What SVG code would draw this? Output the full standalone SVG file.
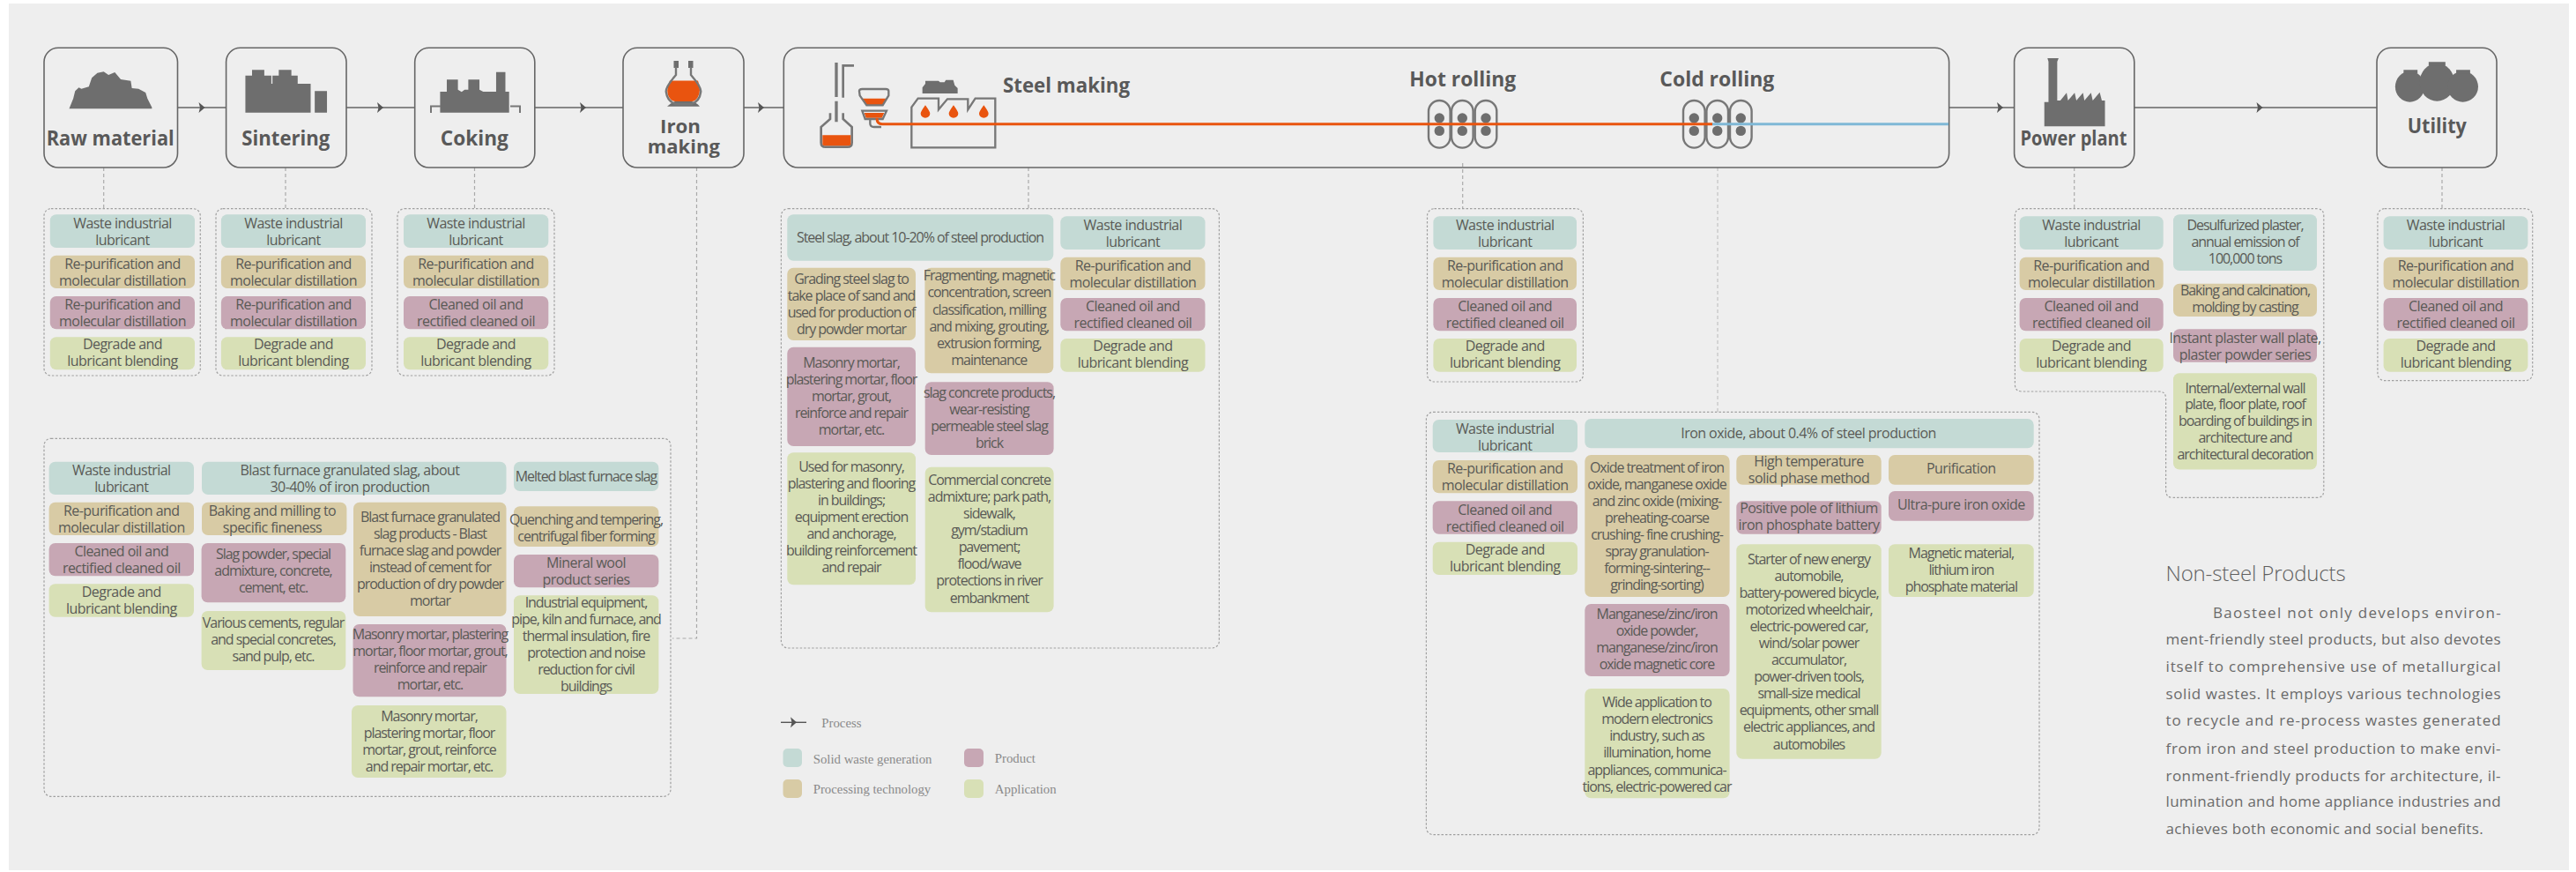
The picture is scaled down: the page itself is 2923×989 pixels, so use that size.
<svg xmlns="http://www.w3.org/2000/svg" width="2923" height="989" viewBox="0 0 2923 989">
<style>
.teal{fill:#c4dad5}.tan{fill:#d8cba5}.mau{fill:#c7a7b4}.grn{fill:#d8e0b6}
.t{font-family:"Open Sans","Liberation Sans",sans-serif;font-size:16px;letter-spacing:-.55px;fill:#5a5a56;text-anchor:middle}
#st1 .t,#st2 .t,#st3 .t,#st4 .t,#st5 .t,#st6 .t,#st7 .t,#i6 .t,#i8 .t,#i9 .t,#i10 .t,#i11 .t,#i12 .t,#i13 .t,#i15 .t,#o6 .t,#o7 .t,#o8 .t,#o11 .t,#o14 .t,#p5 .t,#p6 .t,#p8 .t{letter-spacing:-1.05px}
.h{font-family:"Open Sans","Liberation Sans",sans-serif;font-size:23px;font-weight:700;fill:#595959;text-anchor:middle}
.lg{font-family:"Liberation Serif",serif;font-size:14.8px;fill:#8a8a8a}
.p{font-family:"Open Sans","Liberation Sans",sans-serif;font-size:17px;fill:#6a6a6a}
.box{fill:none;stroke:#666;stroke-width:1.6}
.cont{fill:none;stroke:#a0a0a0;stroke-width:1.2;stroke-dasharray:2.5 2}
.dash{fill:none;stroke:#aaa;stroke-width:1.2;stroke-dasharray:4 3}
.flow{fill:none;stroke:#666;stroke-width:1.6}
.ic{fill:#6e6e6e}
.ol{fill:none;stroke:#777;stroke-width:2.4}
.or{fill:#e9540f}
</style>
<defs>
<path id="ah" d="M0,-6 L7,0 L0,6 L1.5,0 Z" fill="#555"/>
<g id="roll"><rect x="0" y="0" width="24.6" height="53.6" rx="12.3" class="ol"/><circle cx="12.3" cy="20" r="5.7" class="ic"/><circle cx="12.3" cy="34.4" r="5.7" class="ic"/></g>
</defs>
<rect width="2923" height="989" fill="#fff"/>
<rect x="10" y="4" width="2905" height="983" fill="#eee"/>

<g id="connectors">
<path class="flow" d="M201.500,122H256.600M393,122H470.700M606.800,122H707M844,122H889.300M2211.600,122H2285.600M2421.800,122H2697"/>
<use href="#ah" x="225.500" y="122"/><use href="#ah" x="428" y="122"/><use href="#ah" x="658" y="122"/><use href="#ah" x="860" y="122"/><use href="#ah" x="2266" y="122"/><use href="#ah" x="2560.500" y="122"/>
<path class="dash" d="M117.700,190V236M324,190V236M538.500,190V236M790.500,190V724H763M1167,190V236M1659.700,185V236M2353.700,190V236M2771,190V236"/>
<path class="dash" style="stroke:#c4c4c4" d="M1949,190V467"/>
</g>

<g id="node-raw"><rect class="box" x="50" y="54.300" width="151.500" height="135.700" rx="16"/>
<path class="ic" transform="translate(20,40) scale(.4209,.3333)" d="M139,250L150,215L155,190L165,178L172,182L192,175L200,145L215,128L232,124L245,135L262,126L278,150L305,155L308,180L326,182L345,195L350,215L362,245V250Z"/>
<text class="h" x="125.200" y="165" textLength="145" lengthAdjust="spacingAndGlyphs">Raw material</text></g>
<g id="node-sinter"><rect class="box" x="256.600" y="54.300" width="136.400" height="135.700" rx="16"/>
<path class="ic" transform="translate(20,40) scale(.4209,.3333)" d="M614,263V137H632V118H665V137H684V165H687V137H704V118H738V137H755V165H790V263ZM801,190H834V263H801Z"/>
<text class="h" x="324.300" y="165" textLength="100" lengthAdjust="spacingAndGlyphs">Sintering</text></g>
<g id="node-coke"><rect class="box" x="470.700" y="54.300" width="136.100" height="135.700" rx="16"/>
<path class="ic" transform="translate(20,40) scale(.4209,.3333)" d="M1139,263V192H1157V151H1187V185L1197,193L1205,185H1215V151H1245V185L1255,192H1290V125H1315V192H1325V263Z"/>
<path d="M489,128V120.500H500M590,128V120.500H579" fill="none" stroke="#777" stroke-width="2"/>
<text class="h" x="538.300" y="165" textLength="77" lengthAdjust="spacingAndGlyphs">Coking</text></g>
<g id="node-iron"><rect class="box" x="707" y="54.300" width="137" height="135.700" rx="16"/>
<path class="ic" d="M764.500,69H770V77H764.500ZM781,69H786.500V77H781ZM757,120.700Q762,116 766,115H785Q790,116 794,120.700Z"/>
<path class="or" d="M760,91.500H792Q796,103 792,110Q789,115 785,115H766Q762,115 759,110Q755,103 760,91.500Z"/>
<path d="M767,76V85Q754,100 756,105Q757,114 766,118H785Q794,114 795,105Q797,100 784,85V76" fill="none" stroke="#777" stroke-width="2.400"/>
<text class="h" style="font-size:21.500px" x="772" y="150.500" textLength="46" lengthAdjust="spacingAndGlyphs">Iron</text><text class="h" style="font-size:21.500px" x="775.800" y="173.500" textLength="82" lengthAdjust="spacingAndGlyphs">making</text></g>
<g id="node-steel"><rect class="box" x="889.300" y="54.300" width="1322.300" height="135.700" rx="16"/>
<g transform="translate(880,40) scale(.3333)">
<path fill="#777" d="M202,93H212V210H202ZM202,224H212V295H202Z"/>
<path d="M267,103H230V212M186,265V285L155,312V365Q155,380 170,380H245Q260,380 260,365V312L230,285V265" fill="none" stroke="#777" stroke-width="8"/>
<path class="or" d="M160,340H256V370Q256,376 245,376H170Q160,376 160,370Z"/>
<path class="or" d="M291,215H380L364,238H310ZM302,264H370L362,281H308Z"/>
<path d="M285,190Q285,183 295,183H375Q385,183 385,190V205L365,238H310L287,205ZM295,257H378L365,285H305ZM322,285V300Q322,312 335,312H360" fill="none" stroke="#777" stroke-width="7"/>
<path class="ic" d="M500,198V178L510,165V155H555L560,160H575L580,152H605L610,170L620,180V198Z"/>
<path d="M463,382V245L485,215H555V253L585,217H655V253L680,215H748V382Z" fill="none" stroke="#777" stroke-width="7"/>
<path id="drops" class="or" d="M510,238Q526,260 526,266A16,15 0 1 1 494,266Q494,260 510,238ZM606,238Q622,260 622,266A16,15 0 1 1 590,266Q590,260 606,238ZM709,238Q725,260 725,266A16,15 0 1 1 693,266Q693,260 709,238Z"/>
</g>
<text class="h" x="1210" y="105" textLength="144" lengthAdjust="spacingAndGlyphs">Steel making</text>
<text class="h" x="1659.700" y="98.300" textLength="120.700" lengthAdjust="spacingAndGlyphs">Hot rolling</text>
<text class="h" x="1948.300" y="98.300" textLength="130" lengthAdjust="spacingAndGlyphs">Cold rolling</text>
<use href="#roll" x="1621" y="114"/><use href="#roll" x="1647" y="114"/><use href="#roll" x="1673.700" y="114"/>
<use href="#roll" x="1910" y="114"/><use href="#roll" x="1936.400" y="114"/><use href="#roll" x="1963" y="114"/>
<path d="M995,134Q995,140.700 1001,140.700H1943" fill="none" stroke="#e9540f" stroke-width="3"/>
<path d="M1943,140.700H2211" fill="none" stroke="#7fb8d6" stroke-width="3"/></g>
<g id="node-power"><rect class="box" x="2285.600" y="54.300" width="136.200" height="135.700" rx="16"/>
<path class="ic" transform="translate(2260,40) scale(.3954,.3333)" d="M151,310V227H163V90L160,78H192L188,90V222H197L215,196L219,222L238,196L243,222L262,196L266,222L285,196L290,222L310,194L316,222H325V310Z"/>
<text class="h" x="2352.900" y="165" textLength="121" lengthAdjust="spacingAndGlyphs">Power plant</text></g>
<g id="node-utility"><rect class="box" x="2697" y="54.300" width="136" height="135.700" rx="16"/>
<g transform="translate(2260,40) scale(.3954,.3333)"><ellipse class="ic" cx="1200" cy="175" rx="42" ry="52"/><ellipse class="ic" cx="1278" cy="160" rx="50" ry="64"/><ellipse class="ic" cx="1352" cy="175" rx="44" ry="52"/>
<path class="ic" d="M1182,118H1222V130H1182ZM1254,91H1302V104H1254ZM1333,118H1373V130H1333Z"/></g>
<text class="h" x="2765.300" y="150.700" textLength="67" lengthAdjust="spacingAndGlyphs">Utility</text></g>

<g id="containers">
<rect class="cont" x="50" y="236.700" width="177.300" height="189.300" rx="8"/>
<rect class="cont" x="245" y="236.700" width="177" height="189.300" rx="8"/>
<rect class="cont" x="451" y="236.700" width="178" height="189.300" rx="8"/>
<rect class="cont" x="886.400" y="236.700" width="497" height="498.300" rx="8"/>
<rect class="cont" x="1619.500" y="236.700" width="176.900" height="196.300" rx="8"/>
<path class="cont" d="M2294,236.700H2628.800Q2636.800,236.700 2636.800,244.700V556.400Q2636.800,564.400 2628.800,564.400H2465.600Q2457.600,564.400 2457.600,556.400V452Q2457.600,444 2449.600,444H2294.400Q2286.400,444 2286.400,436V244.700Q2286.400,236.700 2294.400,236.700Z"/>
<rect class="cont" x="2697.900" y="236.700" width="175.800" height="195" rx="8"/>
<rect class="cont" x="50" y="497.300" width="711" height="406" rx="8"/>
<rect class="cont" x="1618.400" y="467.300" width="695.600" height="479.400" rx="8"/>
</g>

<g id="raw-cards">
<g id="r1"><rect class="teal" x="56.800" y="243.300" width="164.200" height="37.700" rx="7"/><text class="t" x="139" y="259.300">Waste industrial</text><text class="t" x="139" y="278.300">lubricant</text></g>
<g id="r2"><rect class="tan" x="56.800" y="289.700" width="164.200" height="37.300" rx="7"/><text class="t" x="139" y="305.300">Re-purification and</text><text class="t" x="139" y="324.300">molecular distillation</text></g>
<g id="r3"><rect class="mau" x="56.800" y="336" width="164.200" height="37.300" rx="7"/><text class="t" x="139" y="351.300">Re-purification and</text><text class="t" x="139" y="370.300">molecular distillation</text></g>
<g id="r4"><rect class="grn" x="56.800" y="382.300" width="164.200" height="37" rx="7"/><text class="t" x="139" y="396.300">Degrade and</text><text class="t" x="139" y="415.300">lubricant blending</text></g>
</g>
<g id="sinter-cards">
<g id="s1"><rect class="teal" x="250.900" y="243.300" width="164.100" height="37.700" rx="7"/><text class="t" x="333" y="259.300">Waste industrial</text><text class="t" x="333" y="278.300">lubricant</text></g>
<g id="s2"><rect class="tan" x="250.900" y="289.700" width="164.100" height="37.300" rx="7"/><text class="t" x="333" y="305.300">Re-purification and</text><text class="t" x="333" y="324.300">molecular distillation</text></g>
<g id="s3"><rect class="mau" x="250.900" y="336" width="164.100" height="37.300" rx="7"/><text class="t" x="333" y="351.300">Re-purification and</text><text class="t" x="333" y="370.300">molecular distillation</text></g>
<g id="s4"><rect class="grn" x="250.900" y="382.300" width="164.100" height="37" rx="7"/><text class="t" x="333" y="396.300">Degrade and</text><text class="t" x="333" y="415.300">lubricant blending</text></g>
</g>
<g id="coke-cards">
<g id="k1"><rect class="teal" x="458" y="243.300" width="164.300" height="37.700" rx="7"/><text class="t" x="540" y="259.300">Waste industrial</text><text class="t" x="540" y="278.300">lubricant</text></g>
<g id="k2"><rect class="tan" x="458" y="289.700" width="164.300" height="37.300" rx="7"/><text class="t" x="540" y="305.300">Re-purification and</text><text class="t" x="540" y="324.300">molecular distillation</text></g>
<g id="k3"><rect class="mau" x="458" y="336" width="164.300" height="37.300" rx="7"/><text class="t" x="540" y="351.300">Cleaned oil and</text><text class="t" x="540" y="370.300">rectified cleaned oil</text></g>
<g id="k4"><rect class="grn" x="458" y="382.300" width="164.300" height="37" rx="7"/><text class="t" x="540" y="396.300">Degrade and</text><text class="t" x="540" y="415.300">lubricant blending</text></g>
</g>
<g id="steel-cards">
<g id="st1"><rect class="teal" x="893.300" y="243.300" width="302" height="52.400" rx="7"/><text class="t" x="1044" y="275.300">Steel slag, about 10-20% of steel production</text></g>
<g id="st2"><rect class="tan" x="893.300" y="303.700" width="145.700" height="82.300" rx="7"/><text class="t" x="966" y="321.700">Grading steel slag to</text><text class="t" x="966" y="341">take place of sand and</text><text class="t" x="966" y="360">used for production of</text><text class="t" x="966" y="379.300">dry powder mortar</text></g>
<g id="st3"><rect class="tan" x="1049.400" y="303.700" width="145.900" height="119.600" rx="7"/><text class="t" x="1122.300" y="318.300">Fragmenting, magnetic</text><text class="t" x="1122.300" y="337.300">concentration, screen</text><text class="t" x="1122.300" y="356.700">classification, milling</text><text class="t" x="1122.300" y="376">and mixing, grouting,</text><text class="t" x="1122.300" y="395">extrusion forming,</text><text class="t" x="1122.300" y="414">maintenance</text></g>
<g id="st4"><rect class="mau" x="893.300" y="393.700" width="145.700" height="112.300" rx="7"/><text class="t" x="966" y="417.300">Masonry mortar,</text><text class="t" x="966" y="436.300">plastering mortar, floor</text><text class="t" x="966" y="455.300">mortar, grout,</text><text class="t" x="966" y="474.300">reinforce and repair</text><text class="t" x="966" y="493.300">mortar, etc.</text></g>
<g id="st5"><rect class="grn" x="893.300" y="513.300" width="145.700" height="150" rx="7"/><text class="t" x="966" y="535">Used for masonry,</text><text class="t" x="966" y="554">plastering and flooring</text><text class="t" x="966" y="573">in buildings;</text><text class="t" x="966" y="592.300">equipment erection</text><text class="t" x="966" y="611.300">and anchorage,</text><text class="t" x="966" y="630.300">building reinforcement</text><text class="t" x="966" y="649.300">and repair</text></g>
<g id="st6"><rect class="mau" x="1049.700" y="433.300" width="145.900" height="82.700" rx="7"/><text class="t" x="1122.500" y="451">slag concrete products,</text><text class="t" x="1122.500" y="470">wear-resisting</text><text class="t" x="1122.500" y="489">permeable steel slag</text><text class="t" x="1122.500" y="508">brick</text></g>
<g id="st7"><rect class="grn" x="1049.700" y="529.700" width="145.900" height="164.600" rx="7"/><text class="t" x="1122.500" y="550">Commercial concrete</text><text class="t" x="1122.500" y="569">admixture; park path,</text><text class="t" x="1122.500" y="588">sidewalk,</text><text class="t" x="1122.500" y="607">gym/stadium</text><text class="t" x="1122.500" y="626">pavement;</text><text class="t" x="1122.500" y="645">flood/wave</text><text class="t" x="1122.500" y="664.300">protections in river</text><text class="t" x="1122.500" y="684">embankment</text></g>
<g id="st8"><rect class="teal" x="1203.300" y="245.300" width="164.200" height="37.700" rx="7"/><text class="t" x="1285.400" y="261.300">Waste industrial</text><text class="t" x="1285.400" y="280.300">lubricant</text></g>
<g id="st9"><rect class="tan" x="1203.300" y="291.700" width="164.200" height="37.300" rx="7"/><text class="t" x="1285.400" y="307">Re-purification and</text><text class="t" x="1285.400" y="326">molecular distillation</text></g>
<g id="st10"><rect class="mau" x="1203.300" y="338" width="164.200" height="37.300" rx="7"/><text class="t" x="1285.400" y="353.300">Cleaned oil and</text><text class="t" x="1285.400" y="372.300">rectified cleaned oil</text></g>
<g id="st11"><rect class="grn" x="1203.300" y="384" width="164.200" height="37.700" rx="7"/><text class="t" x="1285.400" y="398.300">Degrade and</text><text class="t" x="1285.400" y="417.300">lubricant blending</text></g>
</g>
<g id="hot-cards">
<g id="h1"><rect class="teal" x="1626.400" y="245.300" width="162.600" height="37.700" rx="7"/><text class="t" x="1707.700" y="261.300">Waste industrial</text><text class="t" x="1707.700" y="280.300">lubricant</text></g>
<g id="h2"><rect class="tan" x="1626.400" y="291.700" width="162.600" height="37.300" rx="7"/><text class="t" x="1707.700" y="307">Re-purification and</text><text class="t" x="1707.700" y="326">molecular distillation</text></g>
<g id="h3"><rect class="mau" x="1626.400" y="338" width="162.600" height="37.300" rx="7"/><text class="t" x="1707.700" y="353.300">Cleaned oil and</text><text class="t" x="1707.700" y="372.300">rectified cleaned oil</text></g>
<g id="h4"><rect class="grn" x="1626.400" y="384" width="162.600" height="37.700" rx="7"/><text class="t" x="1707.700" y="398.300">Degrade and</text><text class="t" x="1707.700" y="417.300">lubricant blending</text></g>
</g>
<g id="power-cards">
<g id="p1"><rect class="teal" x="2291.600" y="245.300" width="163.100" height="37.700" rx="7"/><text class="t" x="2373" y="261.300">Waste industrial</text><text class="t" x="2373" y="280.300">lubricant</text></g>
<g id="p2"><rect class="tan" x="2291.600" y="291.700" width="163.100" height="37.300" rx="7"/><text class="t" x="2373" y="307">Re-purification and</text><text class="t" x="2373" y="326">molecular distillation</text></g>
<g id="p3"><rect class="mau" x="2291.600" y="338" width="163.100" height="37.300" rx="7"/><text class="t" x="2373" y="353.300">Cleaned oil and</text><text class="t" x="2373" y="372.300">rectified cleaned oil</text></g>
<g id="p4"><rect class="grn" x="2291.600" y="384" width="163.100" height="37.700" rx="7"/><text class="t" x="2373" y="398.300">Degrade and</text><text class="t" x="2373" y="417.300">lubricant blending</text></g>
<g id="p5"><rect class="teal" x="2466" y="243.300" width="163" height="63.700" rx="7"/><text class="t" x="2547.500" y="261.300">Desulfurized plaster,</text><text class="t" x="2547.500" y="280.300">annual emission of</text><text class="t" x="2547.500" y="299.300">100,000 tons</text></g>
<g id="p6"><rect class="tan" x="2466" y="321.700" width="163" height="37.300" rx="7"/><text class="t" x="2547.500" y="334.700">Baking and calcination,</text><text class="t" x="2547.500" y="353.700">molding by casting</text></g>
<g id="p7"><rect class="mau" x="2466" y="373.300" width="163" height="37.400" rx="7"/><text class="t" x="2547.500" y="388.700">Instant plaster wall plate,</text><text class="t" x="2547.500" y="407.700">plaster powder series</text></g>
<g id="p8"><rect class="grn" x="2466" y="423.300" width="163" height="109.300" rx="7"/><text class="t" x="2547.500" y="445.700">Internal/external wall</text><text class="t" x="2547.500" y="464.300">plate, floor plate, roof</text><text class="t" x="2547.500" y="483.300">boarding of buildings in</text><text class="t" x="2547.500" y="502.200">architecture and</text><text class="t" x="2547.500" y="521">architectural decoration</text></g>
</g>
<g id="utility-cards">
<g id="u1"><rect class="teal" x="2704.600" y="245.300" width="163.800" height="37.700" rx="7"/><text class="t" x="2786.500" y="261.300">Waste industrial</text><text class="t" x="2786.500" y="280.300">lubricant</text></g>
<g id="u2"><rect class="tan" x="2704.600" y="291.700" width="163.800" height="37.300" rx="7"/><text class="t" x="2786.500" y="307">Re-purification and</text><text class="t" x="2786.500" y="326">molecular distillation</text></g>
<g id="u3"><rect class="mau" x="2704.600" y="338" width="163.800" height="37.300" rx="7"/><text class="t" x="2786.500" y="353.300">Cleaned oil and</text><text class="t" x="2786.500" y="372.300">rectified cleaned oil</text></g>
<g id="u4"><rect class="grn" x="2704.600" y="384" width="163.800" height="37.700" rx="7"/><text class="t" x="2786.500" y="398.300">Degrade and</text><text class="t" x="2786.500" y="417.300">lubricant blending</text></g>
</g>
<g id="iron-cards">
<g id="i1"><rect class="teal" x="55.600" y="523.700" width="164.400" height="37.300" rx="7"/><text class="t" x="137.800" y="539">Waste industrial</text><text class="t" x="137.800" y="558">lubricant</text></g>
<g id="i2"><rect class="tan" x="55.600" y="569.700" width="164.400" height="37.300" rx="7"/><text class="t" x="137.800" y="585">Re-purification and</text><text class="t" x="137.800" y="604">molecular distillation</text></g>
<g id="i3"><rect class="mau" x="55.600" y="616" width="164.400" height="37.300" rx="7"/><text class="t" x="137.800" y="631">Cleaned oil and</text><text class="t" x="137.800" y="650">rectified cleaned oil</text></g>
<g id="i4"><rect class="grn" x="55.600" y="662.300" width="164.400" height="37.400" rx="7"/><text class="t" x="137.800" y="676.500">Degrade and</text><text class="t" x="137.800" y="695.500">lubricant blending</text></g>
<g id="i5"><rect class="teal" x="229" y="523.700" width="345.500" height="37.300" rx="7"/><text class="t" x="397" y="539">Blast furnace granulated slag, about</text><text class="t" x="397" y="558">30-40% of iron production</text></g>
<g id="i6"><rect class="teal" x="583" y="523.700" width="164.400" height="33.300" rx="7"/><text class="t" x="665" y="546">Melted blast furnace slag</text></g>
<g id="i7"><rect class="tan" x="229" y="569.700" width="164.400" height="37.300" rx="7"/><text class="t" x="309" y="585">Baking and milling to</text><text class="t" x="309" y="604">specific fineness</text></g>
<g id="i8"><rect class="mau" x="228.600" y="616" width="163.700" height="67.300" rx="7"/><text class="t" x="310" y="634">Slag powder, special</text><text class="t" x="310" y="653">admixture, concrete,</text><text class="t" x="310" y="672.300">cement, etc.</text></g>
<g id="i9"><rect class="grn" x="228.600" y="693" width="163.700" height="67" rx="7"/><text class="t" x="310" y="712">Various cements, regular</text><text class="t" x="310" y="731">and special concretes,</text><text class="t" x="310" y="750.300">sand pulp, etc.</text></g>
<g id="i10"><rect class="tan" x="401" y="569.700" width="173.500" height="129.300" rx="7"/><text class="t" x="488" y="592.300">Blast furnace granulated</text><text class="t" x="488" y="611.300">slag products - Blast</text><text class="t" x="488" y="630.300">furnace slag and powder</text><text class="t" x="488" y="649.300">instead of cement for</text><text class="t" x="488" y="668.300">production of dry powder</text><text class="t" x="488" y="687.300">mortar</text></g>
<g id="i11"><rect class="mau" x="400.500" y="708" width="174" height="82.300" rx="7"/><text class="t" x="488" y="725.300">Masonry mortar, plastering</text><text class="t" x="488" y="744.300">mortar, floor mortar, grout,</text><text class="t" x="488" y="763.300">reinforce and repair</text><text class="t" x="488" y="782.300">mortar, etc.</text></g>
<g id="i12"><rect class="grn" x="399" y="800" width="175.500" height="82" rx="7"/><text class="t" x="487" y="818.300">Masonry mortar,</text><text class="t" x="487" y="837.300">plastering mortar, floor</text><text class="t" x="487" y="856.300">mortar, grout, reinforce</text><text class="t" x="487" y="875.300">and repair mortar, etc.</text></g>
<g id="i13"><rect class="tan" x="583" y="574.300" width="164.400" height="45.700" rx="7"/><text class="t" x="665" y="595">Quenching and tempering,</text><text class="t" x="665" y="614">centrifugal fiber forming</text></g>
<g id="i14"><rect class="mau" x="583" y="629" width="164.400" height="37.300" rx="7"/><text class="t" x="665" y="644">Mineral wool</text><text class="t" x="665" y="663.300">product series</text></g>
<g id="i15"><rect class="grn" x="583" y="675.300" width="164.400" height="111.700" rx="7"/><text class="t" x="665" y="689">Industrial equipment,</text><text class="t" x="665" y="708">pipe, kiln and furnace, and</text><text class="t" x="665" y="727">thermal insulation, fire</text><text class="t" x="665" y="746.300">protection and noise</text><text class="t" x="665" y="765.300">reduction for civil</text><text class="t" x="665" y="784.300">buildings</text></g>
</g>
<g id="oxide-cards">
<g id="o1"><rect class="teal" x="1625.700" y="476" width="164.300" height="37" rx="7"/><text class="t" x="1707.700" y="492">Waste industrial</text><text class="t" x="1707.700" y="511">lubricant</text></g>
<g id="o2"><rect class="tan" x="1625.700" y="522" width="164.300" height="37.300" rx="7"/><text class="t" x="1707.700" y="537">Re-purification and</text><text class="t" x="1707.700" y="556">molecular distillation</text></g>
<g id="o3"><rect class="mau" x="1625.700" y="568.300" width="164.300" height="37.400" rx="7"/><text class="t" x="1707.700" y="584">Cleaned oil and</text><text class="t" x="1707.700" y="603">rectified cleaned oil</text></g>
<g id="o4"><rect class="grn" x="1625.700" y="614.700" width="164.300" height="37.300" rx="7"/><text class="t" x="1707.700" y="629">Degrade and</text><text class="t" x="1707.700" y="648">lubricant blending</text></g>
<g id="o5"><rect class="teal" x="1798.300" y="475" width="509.400" height="33.300" rx="7"/><text class="t" x="2052" y="497">Iron oxide, about 0.4% of steel production</text></g>
<g id="o6"><rect class="tan" x="1798.300" y="516" width="164.300" height="161" rx="7"/><text class="t" x="1880" y="536.300">Oxide treatment of iron</text><text class="t" x="1880" y="555.300">oxide, manganese oxide</text><text class="t" x="1880" y="574.300">and zinc oxide (mixing-</text><text class="t" x="1880" y="593.300">preheating-coarse</text><text class="t" x="1880" y="612.300">crushing- fine crushing-</text><text class="t" x="1880" y="631.300">spray granulation-</text><text class="t" x="1880" y="650.300">forming-sintering--</text><text class="t" x="1880" y="669.300">grinding-sorting)</text></g>
<g id="o7"><rect class="mau" x="1798.300" y="685" width="164.300" height="82" rx="7"/><text class="t" x="1880" y="702.300">Manganese/zinc/iron</text><text class="t" x="1880" y="721.300">oxide powder,</text><text class="t" x="1880" y="740.300">manganese/zinc/iron</text><text class="t" x="1880" y="759.300">oxide magnetic core</text></g>
<g id="o8"><rect class="grn" x="1798.300" y="781" width="164.300" height="124.300" rx="7"/><text class="t" x="1880" y="802.300">Wide application to</text><text class="t" x="1880" y="821.300">modern electronics</text><text class="t" x="1880" y="840.300">industry, such as</text><text class="t" x="1880" y="859.300">illumination, home</text><text class="t" x="1880" y="879">appliances, communica-</text><text class="t" x="1880" y="898">tions, electric-powered car</text></g>
<g id="o9"><rect class="tan" x="1970.300" y="516" width="164.400" height="33.700" rx="7"/><text class="t" x="2052.500" y="529.300">High temperature</text><text class="t" x="2052.500" y="548.300">solid phase method</text></g>
<g id="o10"><rect class="mau" x="1970.300" y="568.300" width="164.400" height="37.400" rx="7"/><text class="t" x="2052.500" y="582.300">Positive pole of lithium</text><text class="t" x="2052.500" y="601.300">iron phosphate battery</text></g>
<g id="o11"><rect class="grn" x="1970.300" y="617.300" width="164.400" height="243.400" rx="7"/><text class="t" x="2052.500" y="640.300">Starter of new energy</text><text class="t" x="2052.500" y="659.300">automobile,</text><text class="t" x="2052.500" y="678.300">battery-powered bicycle,</text><text class="t" x="2052.500" y="697.300">motorized wheelchair,</text><text class="t" x="2052.500" y="716.300">electric-powered car,</text><text class="t" x="2052.500" y="735.300">wind/solar power</text><text class="t" x="2052.500" y="754.300">accumulator,</text><text class="t" x="2052.500" y="773.300">power-driven tools,</text><text class="t" x="2052.500" y="792.300">small-size medical</text><text class="t" x="2052.500" y="811.300">equipments, other small</text><text class="t" x="2052.500" y="830.300">electric appliances, and</text><text class="t" x="2052.500" y="850">automobiles</text></g>
<g id="o12"><rect class="tan" x="2143" y="516" width="164.700" height="33.700" rx="7"/><text class="t" x="2225.300" y="537">Purification</text></g>
<g id="o13"><rect class="mau" x="2143" y="557" width="164.700" height="33.700" rx="7"/><text class="t" x="2225.300" y="578.300">Ultra-pure iron oxide</text></g>
<g id="o14"><rect class="grn" x="2143" y="617.300" width="164.700" height="59.700" rx="7"/><text class="t" x="2225.300" y="633.300">Magnetic material,</text><text class="t" x="2225.300" y="652.300">lithium iron</text><text class="t" x="2225.300" y="671.300">phosphate material</text></g>
</g>

<g id="legend">
<path d="M886,819.300H915" stroke="#555" stroke-width="1.400"/><use href="#ah" x="897" y="819.300"/>
<text class="lg" x="932.300" y="825">Process</text>
<rect class="teal" x="888.500" y="849" width="21.500" height="21" rx="5"/><text class="lg" x="922.700" y="865.700">Solid waste generation</text>
<rect class="tan" x="888.500" y="884" width="21.500" height="21" rx="5"/><text class="lg" x="922.700" y="900">Processing technology</text>
<rect class="mau" x="1094" y="849" width="22" height="21" rx="5"/><text class="lg" x="1128.800" y="865">Product</text>
<rect class="grn" x="1094" y="884" width="22" height="21" rx="5"/><text class="lg" x="1128.800" y="900">Application</text>
</g>

<g id="non-steel">
<text x="2457.600" y="659" textLength="204" style="font-family:'Open Sans','Liberation Sans',sans-serif;font-size:24px;font-weight:300;fill:#5f5f5f">Non-steel Products</text>
<text class="p" x="2511" y="701.300" textLength="326.700">Baosteel not only develops environ-</text>
<text class="p" x="2457.600" y="731.400" textLength="380">ment-friendly steel products, but also devotes</text>
<text class="p" x="2457.600" y="762.200" textLength="380">itself to comprehensive use of metallurgical</text>
<text class="p" x="2457.600" y="793.300" textLength="380">solid wastes. It employs various technologies</text>
<text class="p" x="2457.600" y="823" textLength="380">to recycle and re-process wastes generated</text>
<text class="p" x="2457.600" y="854.500" textLength="380">from iron and steel production to make envi-</text>
<text class="p" x="2457.600" y="885.600" textLength="380">ronment-friendly products for architecture, il-</text>
<text class="p" x="2457.600" y="915.300" textLength="380">lumination and home appliance industries and</text>
<text class="p" x="2457.600" y="946" textLength="360">achieves both economic and social benefits.</text>
</g>
</svg>
